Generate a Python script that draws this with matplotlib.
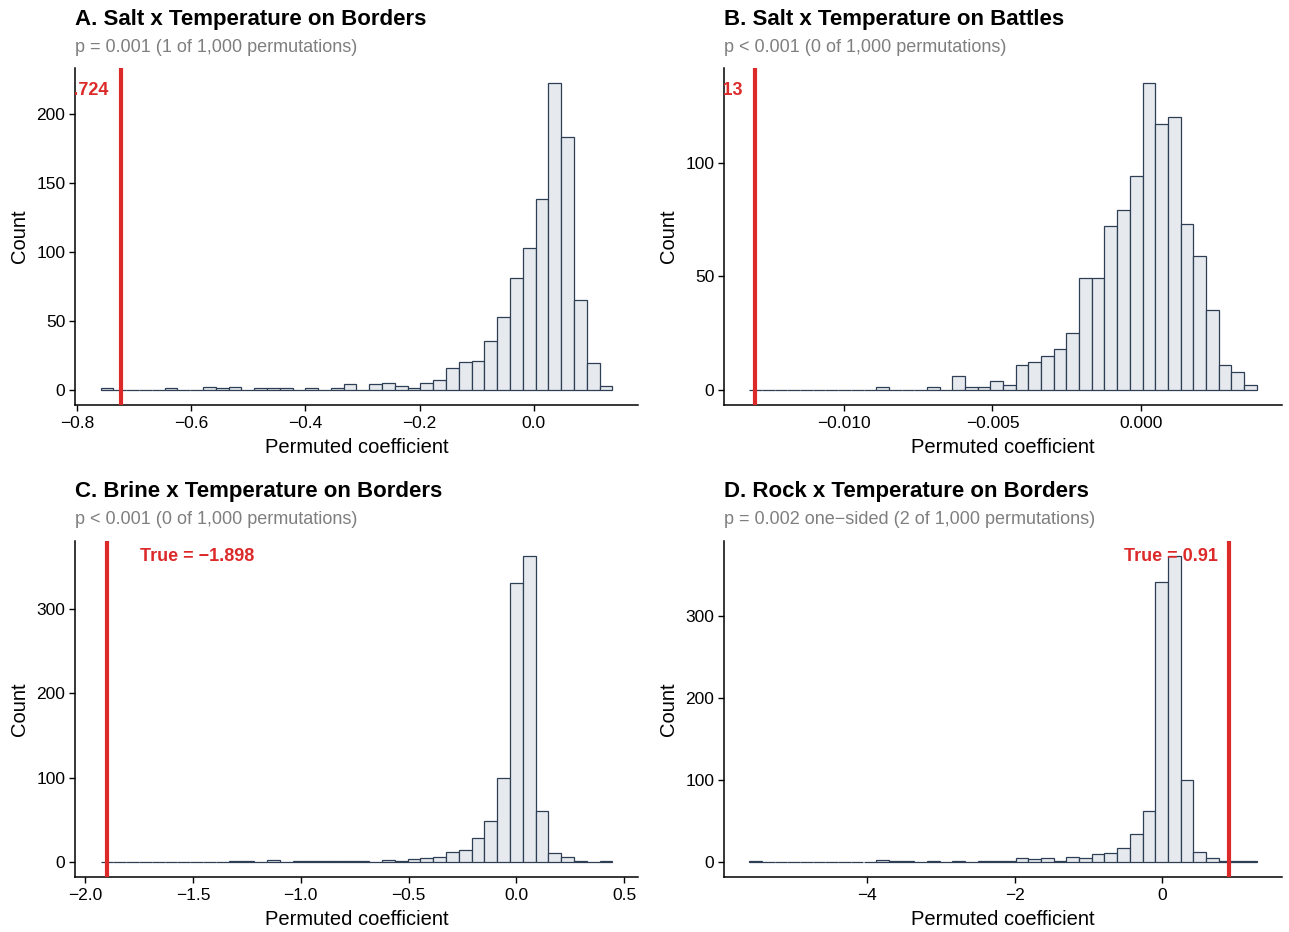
import numpy as np
import matplotlib
matplotlib.use("Agg")
from matplotlib import pyplot as plt
import matplotlib.transforms as mtransforms

plt.rcParams['font.family'] = ['Liberation Sans', 'DejaVu Sans']

# permutation histograms, 40 bins each (counts)
counts_a = [1, 0, 0, 0, 0, 1, 0, 0, 2, 1, 2, 0, 1, 1, 1, 0, 1, 0, 1, 4,
            0, 4, 5, 3, 1, 5, 7, 16, 20, 21, 35, 53, 81, 103, 138, 222, 183, 65, 19, 3]
counts_b = [0, 0, 0, 0, 0, 0, 0, 0, 0, 0, 1, 0, 0, 0, 1, 0, 6, 1, 1, 4,
            2, 11, 12, 15, 18, 25, 49, 49, 72, 79, 94, 135, 117, 120, 73, 59, 35, 11, 8, 2]
counts_c = [0, 0, 0, 0, 0, 0, 0, 0, 0, 0, 1, 1, 0, 2, 0, 1, 1, 1, 1, 1,
            1, 0, 2, 1, 3, 5, 6, 11, 14, 28, 48, 100, 331, 363, 60, 10, 6, 1, 0, 1]
counts_d = [1, 0, 0, 0, 0, 0, 0, 0, 0, 0, 2, 1, 1, 0, 1, 0, 1, 0, 1, 1,
            1, 5, 3, 5, 1, 6, 4, 9, 11, 17, 34, 62, 341, 373, 100, 12, 4, 1, 1, 1]

bin_range_a = (-0.759, 0.138)
bin_range_b = (-0.0132, 0.00391)
bin_range_c = (-1.928, 0.445)
bin_range_d = (-5.602, 1.280)

true_vals = [-0.724, -0.013, -1.898, 0.91]
true_labels = ["True = \u22120.724", "True = \u22120.013", "True = \u22121.898", "True = 0.91"]

titles = ["A. Salt x Temperature on Borders", "B. Salt x Temperature on Battles",
          "C. Brine x Temperature on Borders", "D. Rock x Temperature on Borders"]
subtitles = ["p = 0.001 (1 of 1,000 permutations)", "p < 0.001 (0 of 1,000 permutations)",
             "p < 0.001 (0 of 1,000 permutations)",
             "p = 0.002 one\u2212sided (2 of 1,000 permutations)"]

xticks = [[-0.8, -0.6, -0.4, -0.2, 0.0], [-0.010, -0.005, 0.000],
          [-2.0, -1.5, -1.0, -0.5, 0.0, 0.5], [-4, -2, 0]]
xfmt = ["{:.1f}", "{:.3f}", "{:.1f}", "{:.0f}"]
yticks = [[0, 50, 100, 150, 200], [0, 50, 100], [0, 100, 200, 300], [0, 100, 200, 300]]

all_counts = [counts_a, counts_b, counts_c, counts_d]
all_ranges = [bin_range_a, bin_range_b, bin_range_c, bin_range_d]

# label placement relative to the red line (ha, x offset, y offset in points)
label_side = [("right", -9, -5), ("right", -9, -5), ("left", 24, 0), ("right", -8, 0)]

fill = "#e6eaee"
edge = "#2d3e55"
red = "#dc2a2a"

W, H = 1289, 932
fig = plt.figure(figsize=(W / 100, H / 100), dpi=100)

boxes = [(75, 638, 68, 405), (724, 1282, 68, 405),
         (75, 638, 541, 877), (724, 1282, 541, 877)]
title_y = [19, 19, 491, 491]

for i in range(4):
    l, r, t, b = boxes[i]
    ax = fig.add_axes([l / W, 1 - b / H, (r - l) / W, (b - t) / H])
    counts = np.array(all_counts[i])
    lo, hi = all_ranges[i]
    edges = np.linspace(lo, hi, len(counts) + 1)
    ax.bar(edges[:-1], counts, width=np.diff(edges), align="edge",
           color=fill, edgecolor=edge, linewidth=0.9, zorder=2)
    tv = true_vals[i]
    ax.axvline(tv, color=red, linewidth=3, zorder=3)

    xmin, xmax = min(lo, tv), max(hi, tv)
    pad = 0.05 * (xmax - xmin)
    ax.set_xlim(xmin - pad, xmax + pad)
    ymax = counts.max()
    ax.set_ylim(-0.05 * ymax, 1.05 * ymax)

    ha, dx, dy = label_side[i]
    trans = mtransforms.offset_copy(ax.transData, fig=fig, x=dx, y=dy, units="points")
    ax.text(tv, ymax, true_labels[i], color=red, fontsize=13, fontweight="bold",
            ha=ha, va="center", transform=trans, clip_on=True, zorder=4)

    ax.set_xticks(xticks[i])
    ax.set_xticklabels([xfmt[i].format(v).replace("-", "\u2212") for v in xticks[i]])
    ax.set_yticks(yticks[i])
    ax.tick_params(labelsize=12.5, length=4, width=1, colors="black")
    ax.tick_params(axis="x", pad=4)
    ax.tick_params(axis="y", pad=3)
    for s in ["top", "right"]:
        ax.spines[s].set_visible(False)
    for s in ["left", "bottom"]:
        ax.spines[s].set_linewidth(1.1)
    ax.set_xlabel("Permuted coefficient", fontsize=14.5, labelpad=5)
    ax.set_ylabel("Count", fontsize=14.5, labelpad=5)

    fig.text(l / W, 1 - title_y[i] / H, titles[i], fontsize=16, fontweight="bold",
             ha="left", va="center")
    fig.text(l / W, 1 - (title_y[i] + 29) / H, subtitles[i], fontsize=13,
             color="#7f7f7f", ha="left", va="center")

fig.savefig("out.png", dpi=100)
